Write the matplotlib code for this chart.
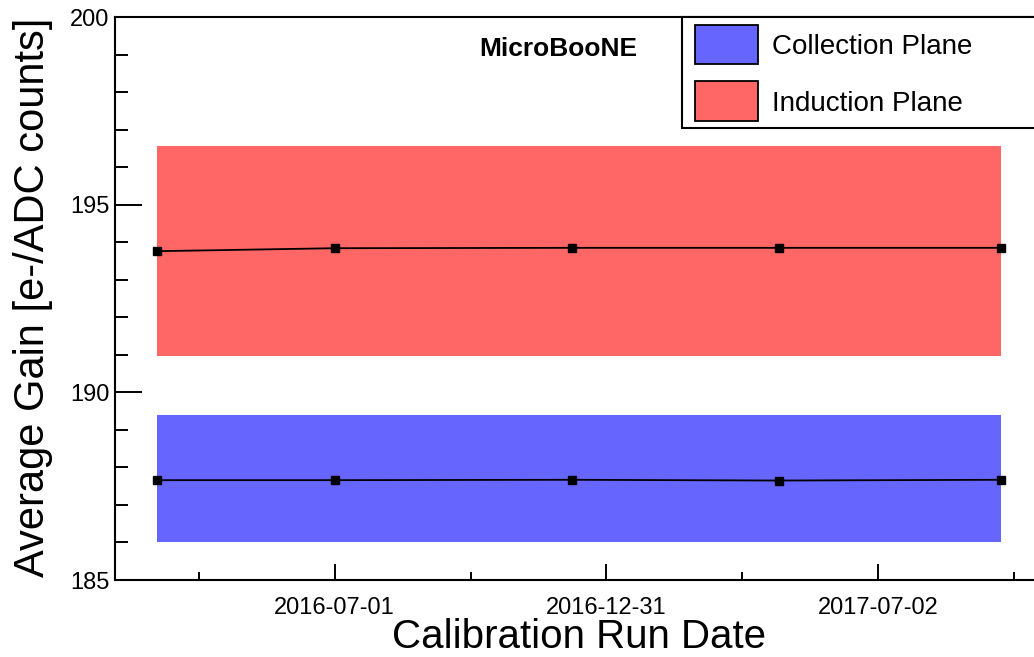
import matplotlib
matplotlib.use('Agg')
import matplotlib.pyplot as plt
import matplotlib.dates as mdates
from matplotlib.ticker import MultipleLocator
from matplotlib.patches import Rectangle
import numpy as np
import pandas as pd

plt.rcParams['font.family'] = ['Liberation Sans', 'DejaVu Sans']

# gain per calibration run
run_dates = ['2016-03-03', '2016-07-01', '2016-12-08', '2017-04-26', '2017-09-23']
collection_gain = [187.66, 187.66, 187.67, 187.65, 187.67]
induction_gain = [193.76, 193.84, 193.85, 193.85, 193.85]
# uncertainty bands (low, high)
collection_band = (186.0, 189.4)
induction_band = (190.97, 196.55)
tick_dates = ['2016-07-01', '2016-12-31', '2017-07-02']
x_range = ['2016-02-04', '2017-10-15']
y_range = (185, 200)
plane_names = ['Collection Plane', 'Induction Plane']

BLUE = '#6666ff'; RED = '#ff6666'
W, H = 1034, 657
fx = lambda px: px / W
fy = lambda py: 1 - py / H

fig = plt.figure(figsize=(W / 100, H / 100), dpi=100)
ax = fig.add_axes([fx(115), 77 / H, 1 - fx(115), 563 / H])

x = mdates.date2num(pd.to_datetime(run_dates))
ax.fill_between(x, collection_band[0], collection_band[1], color=BLUE, lw=0)
ax.fill_between(x, induction_band[0], induction_band[1], color=RED, lw=0)
for g in (collection_gain, induction_gain):
    ax.plot(x, g, color='black', lw=1.3, marker='s', ms=5.3, mfc='black', mec='black')

ax.set_xlim(mdates.date2num(pd.to_datetime(x_range)))
ax.set_ylim(*y_range)

major = mdates.date2num(pd.to_datetime(tick_dates))
step = major[1] - major[0]
minor = np.append(major - step / 2, major[-1] + step / 2)
ax.set_xticks(major)
ax.set_xticklabels(tick_dates)
ax.set_xticks(minor, minor=True)
ax.yaxis.set_major_locator(MultipleLocator(5))
ax.yaxis.set_minor_locator(MultipleLocator(1))

ax.tick_params(axis='y', which='major', direction='in', length=19.5, width=1.4, labelsize=17, pad=4)
ax.tick_params(axis='y', which='minor', direction='in', length=9.5, width=1.4)
ax.tick_params(axis='x', which='major', direction='in', length=11.5, width=1.4, labelsize=17, pad=12)
ax.tick_params(axis='x', which='minor', direction='in', length=5.8, width=1.4)
ax.spines['right'].set_visible(False)
for s in ['left', 'bottom', 'top']:
    ax.spines[s].set_linewidth(1.5)

ax.set_xlabel('Calibration Run Date', fontsize=29)
ax.xaxis.label.set_va('center')
ax.xaxis.set_label_coords(0.505, -0.101)
ax.set_ylabel('Average Gain [e-/ADC counts]', fontsize=30)
ax.yaxis.label.set_va('center')
ax.yaxis.set_label_coords(-0.089, 0.502)

fig.text(fx(558), fy(49), 'MicroBooNE', fontsize=19, fontweight='bold', ha='center', va='center')

# legend box, running off the right edge
fig.add_artist(Rectangle((fx(682), fy(128)), fx(1050) - fx(682), fy(17) - fy(128),
                         transform=fig.transFigure, fc='white', ec='black', lw=1.5))
for name, c, top, bot in zip(plane_names, [BLUE, RED], [25, 81], [64, 121]):
    fig.add_artist(Rectangle((fx(695), fy(bot)), fx(758) - fx(695), fy(top) - fy(bot),
                             transform=fig.transFigure, fc=c, ec='black', lw=1.3))
    fig.text(fx(772), fy((top + bot) / 2 + 3), name, fontsize=20, ha='left', va='center')

plt.savefig('out.png', dpi=100)
plt.close()
